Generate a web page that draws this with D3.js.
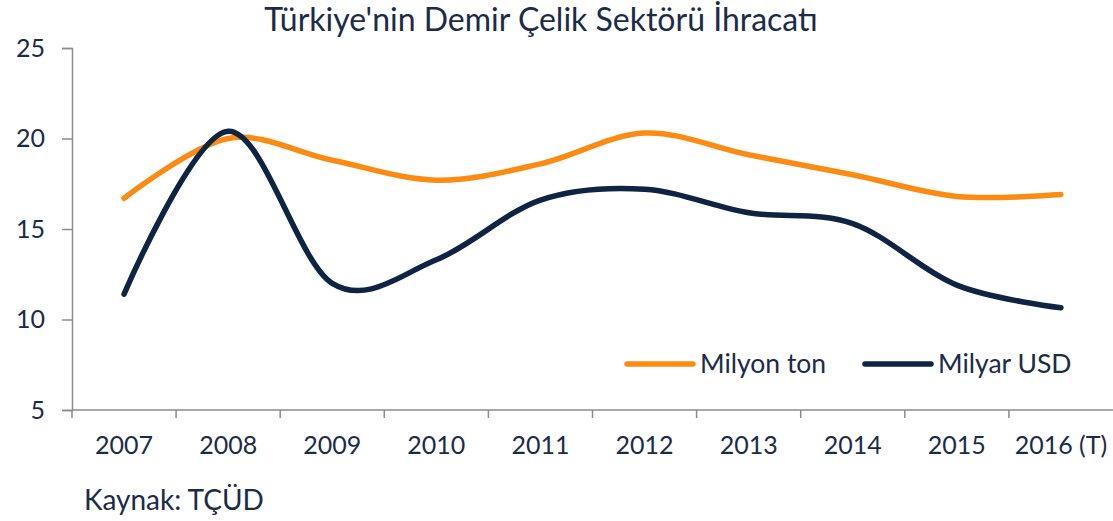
<!DOCTYPE html>
<html>
<head>
<meta charset="utf-8">
<script src="https://cdn.jsdelivr.net/npm/d3@7"></script>
<style>
  body { margin: 0; background: #fff; }
  svg text { font-family: Lato, "Open Sans", sans-serif; fill: #1c2b47; }
</style>
</head>
<body>
<div id="chart"></div>
<script>
var years = ["2007", "2008", "2009", "2010", "2011", "2012", "2013", "2014", "2015", "2016 (T)"];
var milyonTon = [16.7, 20.0, 18.8, 17.7, 18.6, 20.3, 19.1, 18.0, 16.8, 16.9];
var milyarUsd = [11.4, 20.4, 12.0, 13.3, 16.6, 17.2, 15.9, 15.3, 11.9, 10.65];
var yTicks = [5, 10, 15, 20, 25];
var seriesNames = ["Milyon ton", "Milyar USD"];
var colors = ["#fb8b12", "#0e2442"];

(function drawChart(){
  var width = 1113, height = 521;
  var margin = {top: 48, right: 0, bottom: 111, left: 72};

  var svg = d3.select("#chart")
    .append("svg")
      .attr("width", width)
      .attr("height", height);

  var x = d3.scaleBand()
    .domain(years)
    .range([margin.left, width - margin.right]);

  var y = d3.scaleLinear()
    .domain([5, 25])
    .range([height - margin.bottom, margin.top]);

  // title
  svg.append("text")
    .attr("x", 541)
    .attr("y", 31)
    .attr("text-anchor", "middle")
    .attr("font-size", "32px")
    .text("Türkiye'nin Demir Çelik Sektörü İhracatı");

  // y axis
  var yAxis = svg.append("g")
    .attr("transform", "translate(" + margin.left + ",0)")
    .call(d3.axisLeft(y).tickValues(yTicks).tickSize(10).tickPadding(17));
  yAxis.select(".domain").attr("stroke", "#8c8c8c").attr("stroke-width", 1.5);
  yAxis.selectAll(".tick line").attr("stroke", "#8c8c8c").attr("stroke-width", 1.5);
  yAxis.selectAll(".tick text")
    .attr("font-size", "25px")
    .attr("fill", "#1c2b47");

  // x axis with ticks between categories
  var xAxisG = svg.append("g")
    .attr("transform", "translate(0," + y(5) + ")");
  xAxisG.append("line")
    .attr("x1", margin.left).attr("x2", width - margin.right)
    .attr("stroke", "#8c8c8c").attr("stroke-width", 1.5);
  xAxisG.selectAll(".xtick")
    .data(years)
    .enter().append("line")
      .attr("class", "xtick")
      .attr("x1", function(d){ return x(d); })
      .attr("x2", function(d){ return x(d); })
      .attr("y1", 0).attr("y2", 8)
      .attr("stroke", "#8c8c8c").attr("stroke-width", 1.5);
  xAxisG.selectAll(".xlabel")
    .data(years)
    .enter().append("text")
      .attr("class", "xlabel")
      .attr("x", function(d){ return x(d) + x.bandwidth() / 2; })
      .attr("y", 44)
      .attr("text-anchor", "middle")
      .attr("font-size", "25px")
      .text(function(d){ return d; });

  // lines (excel-style smoothing)
  var line = d3.line()
    .x(function(d, i){ return x(years[i]) + x.bandwidth() / 2; })
    .y(function(d){ return y(d); })
    .curve(d3.curveCatmullRom.alpha(0));

  [milyonTon, milyarUsd].forEach(function(values, i){
    svg.append("path")
      .datum(values)
      .attr("d", line)
      .attr("fill", "none")
      .attr("stroke", colors[i])
      .attr("stroke-width", 5.5)
      .attr("stroke-linecap", "round")
      .attr("stroke-linejoin", "round");
  });

  // legend
  var legendX = [627, 865];
  var legend = svg.selectAll(".legend")
    .data(seriesNames)
    .enter().append("g")
      .attr("class", "legend")
      .attr("transform", function(d, i){ return "translate(" + legendX[i] + ",364)"; });
  legend.append("line")
    .attr("x1", 0).attr("x2", 66)
    .attr("stroke", function(d, i){ return colors[i]; })
    .attr("stroke-width", 5.5)
    .attr("stroke-linecap", "round");
  legend.append("text")
    .attr("x", 73)
    .attr("y", 9)
    .attr("font-size", "26.5px")
    .text(function(d){ return d; });

  // source
  svg.append("text")
    .attr("x", 84)
    .attr("y", 510)
    .attr("font-size", "28px")
    .text("Kaynak: TÇÜD");
})();
</script>
</body>
</html>
